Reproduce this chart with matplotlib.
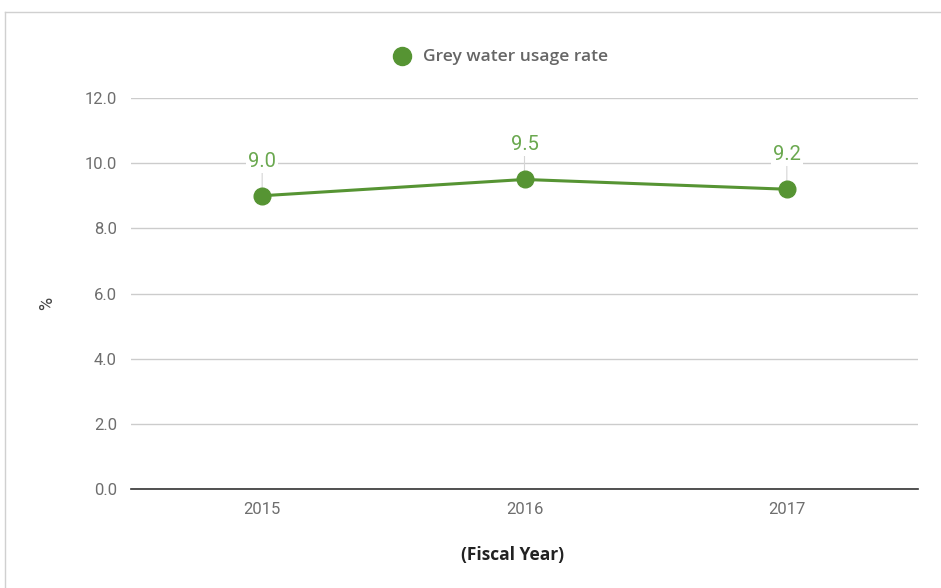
import matplotlib
matplotlib.use("Agg")
import matplotlib.pyplot as plt
from matplotlib.lines import Line2D

years = ["2015", "2016", "2017"]
values = [9.0, 9.5, 9.2]
yticks = [0.0, 2.0, 4.0, 6.0, 8.0, 10.0, 12.0]
series_name = "Grey water usage rate"

W, H = 941, 588
fig = plt.figure(figsize=(W / 100, H / 100), dpi=100)
ax = fig.add_axes([131 / W, 1 - 489 / H, (918 - 131) / W, (489 - 98) / H])

green = "#569433"
label_green = "#6aa84f"

x = list(range(len(years)))
ax.plot(x, values, color=green, lw=2.2, marker="o", ms=12, zorder=3)

for xi, v in zip(x, values):
    ax.annotate("", xy=(xi, v), xytext=(0, 19), textcoords="offset points",
                arrowprops=dict(arrowstyle="-", color="#d5d5d5", lw=0.8, shrinkA=0, shrinkB=0),
                zorder=2)
    ax.annotate(f"{v:.1f}", xy=(xi, v), xytext=(0, 18), textcoords="offset points",
                ha="center", va="bottom", color=label_green, fontsize=14.5,
                family="Roboto", zorder=4,
                bbox=dict(boxstyle="square,pad=0.1", fc="white", ec="none"))

ax.set_xlim(-0.5, 2.5)
ax.set_ylim(0, 12)
ax.set_yticks(yticks)
ax.set_yticklabels([f"{t:.1f}" for t in yticks])
ax.set_xticks(x)
ax.set_xticklabels(years)
ax.grid(axis="y", color="#cccccc", lw=1)
ax.set_axisbelow(True)
for s in ["top", "right", "left"]:
    ax.spines[s].set_visible(False)
ax.spines["bottom"].set_color("#333333")
ax.spines["bottom"].set_linewidth(1.2)
ax.tick_params(axis="both", length=0, labelsize=12, labelcolor="#6e6e6e", pad=10)
for lab in ax.get_xticklabels() + ax.get_yticklabels():
    lab.set_family("Roboto")
ax.tick_params(axis="x", pad=9)

fig.text(47 / W, 1 - 303 / H, "%", rotation=90, ha="center", va="center",
         fontsize=13, color="#444444", family="Roboto")
fig.text(513 / W, 1 - 555 / H, "(Fiscal Year)", ha="center", va="center",
         fontsize=12.5, color="#222222", family="Open Sans", fontweight="bold")

# legend
fig.add_artist(Line2D([402 / W], [1 - 56 / H], marker="o", ms=13, color=green,
                      transform=fig.transFigure, lw=0))
fig.text(423 / W, 1 - 57 / H, series_name, ha="left", va="center",
         fontsize=12.5, color="#666666", family="Open Sans", fontweight="semibold")

# frame border
fig.add_artist(Line2D([5 / W, 1], [1 - 12 / H, 1 - 12 / H], color="#d0d0d0", lw=1,
                      transform=fig.transFigure))
fig.add_artist(Line2D([5 / W, 5 / W], [1 - 12 / H, 0], color="#d0d0d0", lw=1,
                      transform=fig.transFigure))

fig.savefig("out.png", dpi=100)
